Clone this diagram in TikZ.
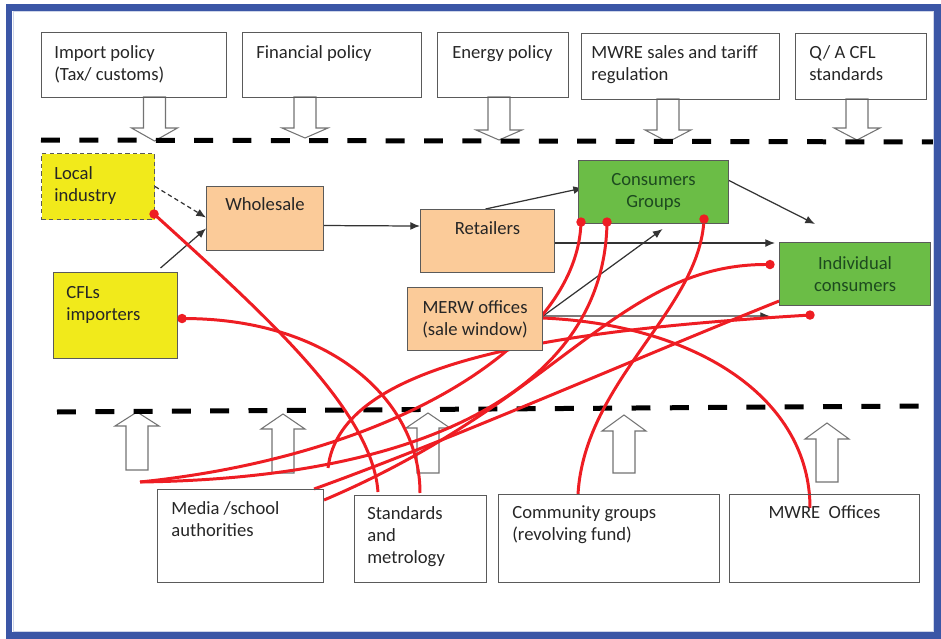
\documentclass[tikz,border=0pt]{standalone}
\usepackage{fontspec}
\setmainfont{Carlito}
\usetikzlibrary{arrows.meta,positioning}

\definecolor{frameblue}{HTML}{3B56A6}
\definecolor{linkred}{HTML}{EE1D23}
\definecolor{actyellow}{HTML}{F1EA1B}
\definecolor{tradepeach}{HTML}{FBCB99}
\definecolor{usergreen}{HTML}{6BBD46}
\definecolor{usertext}{HTML}{1D4A1F}
\definecolor{boxline}{HTML}{5A5A5A}

\pgfdeclarelayer{back}
\pgfdeclarelayer{links}
\pgfdeclarelayer{front}
\pgfsetlayers{back,links,main,front}

\tikzset{
  box/.style={draw=boxline, line width=0.6pt, inner sep=0pt, anchor=north west},
  wh/.style 2 args={minimum width=#1*0.02cm, minimum height=#2*0.02cm},
  txt/.style={font=\fontsize{10.6}{12.7}\selectfont, text=black!85},
  lbl/.style={txt, inner sep=0pt, anchor=north west, align=left},
  yellowbox/.style={box, fill=actyellow},
  peachbox/.style={box, fill=tradepeach},
  greenbox/.style={box, fill=usergreen, txt, text=usertext, align=center},
  blockarrow/.style={draw=boxline!85, fill=white, line width=0.6pt},
  level/.style={black, line width=0.1cm, dash pattern=on 10.8pt off 11pt},
  conn/.style={draw=black!80, line width=0.7pt, -{Latex[length=5.5pt,width=4.5pt]}},
  link/.style={draw=linkred, line width=1.7pt},
}

\begin{document}
\begin{tikzpicture}[x=0.02cm,y=-0.02cm]
\useasboundingbox (0,0) rectangle (941,639);

% frame
\draw[frameblue, line width=0.14cm] (9,7.5) rectangle (937.5,635.5);
\draw[frameblue!25, line width=0.4pt] (13,11.5) rectangle (933.5,631.5);

% policy level
\node[box, wh={185}{65}] (imp) at (41,32) {};
\node[lbl] (imp-t) at ([shift={(13,13)}]imp.north west) {Import policy\\(Tax/ customs)};
\node[box, wh={179}{65}] (fin) at (242,32) {};
\node[lbl] (fin-t) at ([shift={(14,13)}]fin.north west) {Financial policy};
\node[box, wh={131}{65}] (ene) at (437,32) {};
\node[lbl] (ene-t) at ([shift={(15,13)}]ene.north west) {Energy policy};
\node[box, wh={198}{66}] (mwr) at (581,33) {};
\node[lbl] (mwr-t) at ([shift={(10,12)}]mwr.north west) {MWRE sales and tariff\\regulation};
\node[box, wh={131}{66}] (qa) at (795,33) {};
\node[lbl] (qa-t) at ([shift={(14,12)}]qa.north west) {Q/ A CFL\\standards};

% market level
\node[yellowbox, wh={113}{66}, dashed, dash pattern=on 2.5pt off 1.8pt] (lind) at (41,153) {};
\node[lbl] (lind-t) at ([shift={(13,13)}]lind.north west) {Local\\industry};
\node[peachbox, wh={117}{64}] (whs) at (206,186) {};
\node[txt, inner sep=0pt, anchor=north] (whs-t) at ([shift={(0,11)}]whs.north) {Wholesale};
\node[yellowbox, wh={124}{86}] (cfl) at (53,272) {};
\node[lbl] (cfl-t) at ([shift={(13,14)}]cfl.north west) {CFLs\\importers};
\node[peachbox, wh={134}{63}] (ret) at (420,209) {};
\node[txt, inner sep=0pt, anchor=north] (ret-t) at ([shift={(0,12)}]ret.north) {Retailers};
\node[peachbox, wh={135}{63}, txt, align=center] (mer) at (407,287) {MERW offices\\(sale window)};
\node[greenbox, wh={150}{63}] (cg) at (578,160) {Consumers\\Groups};
\node[greenbox, wh={151}{63}] (ind) at (779,242) {Individual\\consumers};

% support level
\node[box, wh={166}{93}] (med) at (157,489) {};
\node[lbl] (med-t) at ([shift={(14,12)}]med.north west) {Media /school\\authorities};
\node[box, wh={132}{87}] (std) at (354,495) {};
\node[lbl] (std-t) at ([shift={(13,11)}]std.north west) {Standards\\and\\metrology};
\node[box, wh={221}{88}] (com) at (498,494) {};
\node[lbl] (com-t) at ([shift={(14,11)}]com.north west) {Community groups\\(revolving fund)};
\node[box, wh={190}{88}] (mwo) at (729,494) {};
\node[txt, inner sep=0pt, anchor=north] (mwo-t) at ([shift={(0,11)}]mwo.north) {MWRE~ Offices};

% end points
\coordinate (ind-in) at ([shift={(-4,-31)}]ind.west);
\coordinate (ind-top) at ([shift={(36,-18)}]ind.north west);
\coordinate (ind-low) at ([shift={(-9,10)}]ind.south west);
\coordinate (lind-d) at ([shift={(-1,-6)}]lind.south east);
\coordinate (cfl-d) at ([shift={(4,3)}]cfl.east);
\coordinate (cg-a) at ([shift={(3,-2)}]cg.south west);
\coordinate (cg-b) at ([shift={(29,-2)}]cg.south west);
\coordinate (cg-c) at ([shift={(126,-5)}]cg.south west);
\coordinate (ind-a) at ([shift={(-9,-9.5)}]ind.west);
\coordinate (ind-b) at ([shift={(31,9)}]ind.south west);
\coordinate (ind-c) at ([shift={(0,-5)}]ind.south west);
\coordinate (mer-a) at ([shift={(0,-1)}]mer.east);
\coordinate (med-a) at ([shift={(-17,-7)}]med.north west);
\coordinate (med-b) at ([shift={(-10,0)}]med.north east);
\coordinate (med-c) at ([shift={(0,11)}]med.north east);
\coordinate (med-d) at ([shift={(4,-21)}]med.north east);
\coordinate (std-a) at ([shift={(24,-3)}]std.north west);
\coordinate (std-b) at ([shift={(66,-2)}]std.north west);
\coordinate (com-a) at ([shift={(80,0)}]com.north west);
\coordinate (mwo-a) at ([shift={(81,14)}]mwo.north west);

\begin{pgfonlayer}{back}
  \foreach \cx/\ya/\yb/\yc in {154.5/97/128/141, 305/97/128/138, 499/97/130/140, 668/99/130/142, 857/99/128/140}
    \draw[blockarrow] ({\cx-11},\ya) -- ({\cx-11},\yb) -- ({\cx-23},\yb) -- (\cx,\yc)
      -- ({\cx+23},\yb) -- ({\cx+11},\yb) -- ({\cx+11},\ya) -- cycle;
  \foreach \cx/\ya/\yb/\yc in {137/470/426/412, 283/473/429/414, 428/473/428/413, 624/473/431/415, 827/482/439/423}
    \draw[blockarrow] ({\cx-11},\ya) -- ({\cx-11},\yb) -- ({\cx-22},\yb) -- (\cx,\yc)
      -- ({\cx+22},\yb) -- ({\cx+11},\yb) -- ({\cx+11},\ya) -- cycle;
  \draw[level] (41,140) -- (935,142);
  \draw[level] (57,412) -- (925,406);
\end{pgfonlayer}

\begin{pgfonlayer}{links}
  % flows of goods
  \draw[conn, dash pattern=on 2.5pt off 1.8pt] (lind.east) -- ([shift={(0,-1)}]whs.west);
  \draw[conn] ([shift={(45,-4)}]cfl.north) -- ([shift={(0,10)}]whs.west);
  \draw[conn] ([shift={(0,7)}]whs.east) -- ([shift={(0,-15)}]ret.west);
  \draw[conn] ([shift={(-2,0)}]ret.north) -- ([shift={(5,-4)}]cg.west);
  \draw[conn] (ret.east |- ind-in) -- (ind-in);
  \draw[conn] ([shift={(-11,15)}]cg.north east) -- (ind-top);
  \draw[conn] ([shift={(0,-3)}]mer.east) -- ([shift={(9,5)}]cg.south);
  \draw[conn] ([shift={(0,-3)}]mer.east) -- (ind-low);
  % awareness links
  \draw[link] (lind-d) .. controls (265,315) and (372,410) .. (std-a);
  \draw[link] (cfl-d) .. controls (330,318) and (420,400) .. (std-b);
  \draw[link] (cg-a) .. controls (578,340) and (400,455) .. (med-a);
  \draw[link] (cg-b) .. controls (605,380) and (440,478) .. (med-a);
  \draw[link] (cg-c) .. controls (700,310) and (585,380) .. (com-a);
  \draw[link] (ind-a) .. controls (620,262) and (560,400) .. (med-c);
  \draw[link] (ind-c) .. controls (620,365) and (450,440) .. (med-b);
  \draw[link] (ind-b) .. controls (560,330) and (340,360) .. (med-d);
  \draw[link] (mer-a) .. controls (700,325) and (810,400) .. (mwo-a);
\end{pgfonlayer}

\begin{pgfonlayer}{front}
  \foreach \p in {lind-d, cfl-d, cg-a, cg-b, cg-c, ind-a, ind-b}
    \fill[linkred] (\p) circle (2.7pt);
\end{pgfonlayer}
\end{tikzpicture}
\end{document}
